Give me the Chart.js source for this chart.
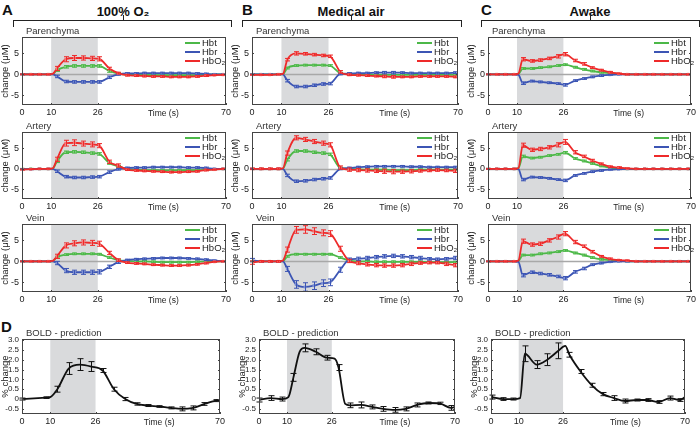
<!DOCTYPE html>
<html>
<head>
<meta charset="utf-8">
<script src="https://cdn.jsdelivr.net/npm/chart.js@4.4.1/dist/chart.umd.min.js"></script>
<style>
  body { margin: 0; background: #fff; font-family: 'Liberation Sans', Arial, sans-serif; }
  #fig { position: relative; width: 700px; height: 428px; overflow: hidden; }
  #fig canvas { position: absolute; }
  .letter { position: absolute; font-weight: bold; font-size: 15px; line-height: 15px; color: #111; }
  .group { position: absolute; width: 140px; text-align: center; font-weight: bold; font-size: 13px; line-height: 13px; color: #111; }
  .bracket { position: absolute; height: 6px; border: 1px solid #222; border-bottom: none; }
  .notch { position: absolute; width: 1px; height: 5px; background: #222; }
</style>
</head>
<body>
<div id="fig">
  <div class="letter" style="left:2px;top:2px">A</div>
  <div class="letter" style="left:242px;top:2px">B</div>
  <div class="letter" style="left:481px;top:2px">C</div>
  <div class="letter" style="left:1px;top:319px">D</div>
  <div class="group" style="left:53px;top:5px">100% O₂</div>
  <div class="group" style="left:281px;top:5px">Medical air</div>
  <div class="group" style="left:520px;top:5px">Awake</div>
  <div class="bracket" style="left:13px;top:20px;width:217px"></div>
  <div class="notch" style="left:123px;top:15px"></div>
  <div class="bracket" style="left:242px;top:20px;width:218px"></div>
  <div class="notch" style="left:351px;top:15px"></div>
  <div class="bracket" style="left:481px;top:20px;width:217px"></div>
  <div class="notch" style="left:590px;top:15px"></div>
</div>
<script>
// stimulus window and axis ticks
const stimWindow = [10, 26];
const timeTicks = [0, 10, 26, 70];
const hbTicks = [-5, 0, 5];
const boldTicks = [-0.5, 0, 0.5, 1, 1.5, 2, 2.5, 3];

// hemodynamic sample times (s)
const hbTime = [0, 3, 6, 9, 10.5, 12, 15, 18, 21, 24, 26.5, 30, 33, 36, 39, 42, 45, 48, 51, 54, 57, 60, 63, 66, 69];

// A - 100% O2
const aParHbt = [0, 0, 0, 0, 0.05, 1.0, 1.8, 2.0, 2.0, 2.0, 2.0, 0.8, 0.2, 0, -0.1, -0.1, -0.2, -0.2, -0.2, -0.2, -0.2, -0.2, -0.1, 0, 0];
const aParHbr = [0, 0, 0, 0, 0, -0.5, -1.7, -1.8, -1.8, -1.8, -1.8, -0.7, 0, 0.2, 0.2, 0.3, 0.3, 0.3, 0.3, 0.3, 0.3, 0.2, 0.1, 0, 0];
const aParHbo = [0, 0, 0, 0, 0.1, 1.4, 3.6, 3.9, 3.9, 3.8, 3.7, 1.4, 0.3, -0.2, -0.3, -0.4, -0.5, -0.5, -0.6, -0.6, -0.6, -0.5, -0.3, -0.2, -0.1];
const aParHbtErr = [0.1, 0.1, 0.1, 0.1, null, 0.3, 0.3, 0.3, 0.3, 0.3, 0.3, 0.3, 0.2, 0.2, 0.2, 0.2, 0.2, 0.2, 0.2, 0.2, 0.2, 0.2, 0.2, 0.1, 0.1];
const aParHbrErr = [0.1, 0.1, 0.1, 0.1, null, 0.3, 0.3, 0.3, 0.3, 0.3, 0.3, 0.3, 0.2, 0.2, 0.2, 0.2, 0.2, 0.2, 0.2, 0.2, 0.2, 0.2, 0.2, 0.1, 0.1];
const aParHboErr = [0.1, 0.1, 0.1, 0.1, null, 0.5, 0.6, 0.6, 0.5, 0.5, 0.5, 0.3, 0.2, 0.2, 0.2, 0.2, 0.2, 0.2, 0.2, 0.2, 0.2, 0.2, 0.2, 0.1, 0.1];

const aArtHbt = [0, 0, 0, 0, 0.05, 1.8, 4.0, 4.1, 4.0, 3.8, 3.6, 1.4, 0.6, 0, -0.2, -0.3, -0.3, -0.4, -0.4, -0.4, -0.3, -0.3, -0.2, -0.1, 0];
const aArtHbr = [-0.1, -0.1, 0, 0, 0, -0.6, -1.9, -2.1, -2.1, -2.0, -1.9, -0.8, -0.1, 0.2, 0.3, 0.3, 0.4, 0.4, 0.4, 0.4, 0.3, 0.3, 0.2, 0, 0];
const aArtHbo = [-0.2, -0.1, 0, 0, 0.1, 2.3, 6.2, 6.3, 6.1, 5.9, 5.6, 1.7, 0.8, -0.2, -0.4, -0.5, -0.6, -0.7, -0.8, -0.8, -0.7, -0.6, -0.3, -0.2, 0];
const aArtHbtErr = [0.1, 0.1, 0.1, 0.1, null, 0.3, 0.3, 0.3, 0.3, 0.3, 0.3, 0.3, 0.2, 0.2, 0.2, 0.2, 0.2, 0.2, 0.2, 0.2, 0.2, 0.2, 0.2, 0.1, 0.1];
const aArtHbrErr = [0.1, 0.1, 0.1, 0.1, null, 0.3, 0.3, 0.3, 0.3, 0.3, 0.3, 0.3, 0.2, 0.2, 0.2, 0.2, 0.2, 0.2, 0.2, 0.2, 0.2, 0.2, 0.2, 0.1, 0.1];
const aArtHboErr = [0.1, 0.1, 0.1, 0.1, null, 0.5, 0.7, 0.7, 0.6, 0.6, 0.5, 0.4, 0.4, 0.2, 0.2, 0.2, 0.2, 0.2, 0.2, 0.2, 0.2, 0.2, 0.2, 0.1, 0.1];

const aVeiHbt = [0, 0, 0, 0, 0.05, 1.0, 1.6, 1.8, 1.8, 1.8, 1.7, 0.9, 0.3, 0.1, 0, 0, -0.1, -0.2, -0.2, -0.2, -0.2, -0.1, 0, 0, 0];
const aVeiHbr = [0, 0, 0, 0, 0, -0.4, -2.2, -2.6, -2.6, -2.6, -2.5, -1.3, -0.2, 0.3, 0.5, 0.6, 0.7, 0.8, 0.8, 0.8, 0.7, 0.6, 0.4, 0.2, 0];
const aVeiHbo = [0, 0, 0, 0, 0.1, 1.2, 3.8, 4.3, 4.5, 4.4, 4.2, 2.0, 0.3, -0.3, -0.5, -0.6, -0.8, -0.9, -1.0, -1.0, -0.9, -0.7, -0.4, -0.1, 0];
const aVeiHbtErr = [0.1, 0.1, 0.1, 0.1, null, 0.2, 0.2, 0.2, 0.2, 0.2, 0.2, 0.2, 0.2, 0.2, 0.2, 0.2, 0.2, 0.2, 0.2, 0.2, 0.2, 0.2, 0.2, 0.1, 0.1];
const aVeiHbrErr = [0.1, 0.1, 0.1, 0.1, null, 0.4, 0.5, 0.5, 0.5, 0.5, 0.5, 0.4, 0.3, 0.2, 0.2, 0.2, 0.2, 0.2, 0.2, 0.2, 0.2, 0.2, 0.2, 0.1, 0.1];
const aVeiHboErr = [0.1, 0.1, 0.1, 0.1, null, 0.5, 0.6, 0.6, 0.6, 0.6, 0.6, 0.4, 0.3, 0.2, 0.2, 0.2, 0.2, 0.2, 0.2, 0.2, 0.2, 0.2, 0.2, 0.1, 0.1];

// B - medical air
const bParHbt = [0, 0, 0, 0, 0.05, 1.5, 2.1, 2.2, 2.2, 2.2, 2.1, 0.3, 0.1, 0, 0, -0.1, -0.1, -0.1, -0.1, -0.1, -0.1, -0.1, -0.1, -0.1, -0.1];
const bParHbr = [0, 0, 0, 0, 0, -1.5, -2.9, -2.9, -2.6, -2.3, -2.2, 0.1, 0.2, 0.3, 0.3, 0.4, 0.4, 0.4, 0.4, 0.3, 0.3, 0.3, 0.3, 0.3, 0.4];
const bParHbo = [-0.1, -0.1, -0.1, 0, 0.1, 3.5, 5.0, 4.9, 4.7, 4.5, 4.3, 0.6, -0.1, -0.2, -0.3, -0.4, -0.5, -0.6, -0.6, -0.6, -0.5, -0.5, -0.5, -0.5, -0.6];
const bParHbtErr = [0.1, 0.1, 0.1, 0.1, null, 0.2, 0.2, 0.2, 0.2, 0.2, 0.2, 0.2, 0.2, 0.2, 0.2, 0.2, 0.2, 0.2, 0.2, 0.2, 0.2, 0.2, 0.2, 0.2, 0.2];
const bParHbrErr = [0.1, 0.1, 0.1, 0.1, null, 0.3, 0.3, 0.3, 0.3, 0.3, 0.3, 0.2, 0.2, 0.2, 0.2, 0.2, 0.3, 0.3, 0.2, 0.2, 0.2, 0.2, 0.2, 0.2, 0.2];
const bParHboErr = [0.1, 0.1, 0.1, 0.1, null, 0.3, 0.4, 0.3, 0.3, 0.3, 0.3, 0.3, 0.2, 0.2, 0.2, 0.2, 0.3, 0.3, 0.2, 0.2, 0.2, 0.2, 0.2, 0.2, 0.2];

const bArtHbt = [0, 0, 0, 0, 0.05, 2.2, 4.3, 4.3, 4.0, 3.8, 3.5, 0.2, 0, -0.1, -0.2, -0.2, -0.2, -0.3, -0.3, -0.3, -0.2, -0.2, -0.2, -0.2, -0.2];
const bArtHbr = [0, 0, 0, 0, 0, -1.6, -3.0, -2.9, -2.6, -2.4, -2.2, 0, 0.2, 0.4, 0.5, 0.6, 0.6, 0.6, 0.6, 0.5, 0.5, 0.4, 0.4, 0.4, 0.4];
const bArtHbo = [0, 0, 0, 0, 0.1, 3.8, 7.5, 7.1, 6.6, 6.2, 5.8, 0.3, -0.2, -0.3, -0.4, -0.5, -0.6, -0.7, -0.7, -0.6, -0.5, -0.4, -0.3, -0.4, -0.5];
const bArtHbtErr = [0.1, 0.1, 0.1, 0.1, null, 0.3, 0.3, 0.3, 0.3, 0.3, 0.3, 0.2, 0.2, 0.2, 0.2, 0.2, 0.2, 0.2, 0.2, 0.2, 0.2, 0.2, 0.2, 0.2, 0.2];
const bArtHbrErr = [0.1, 0.1, 0.1, 0.1, null, 0.3, 0.3, 0.3, 0.3, 0.3, 0.3, 0.2, 0.2, 0.2, 0.2, 0.2, 0.2, 0.2, 0.2, 0.2, 0.2, 0.2, 0.2, 0.2, 0.2];
const bArtHboErr = [0.2, 0.2, 0.2, 0.2, null, 0.5, 0.5, 0.5, 0.5, 0.5, 0.5, 0.4, 0.4, 0.4, 0.4, 0.4, 0.5, 0.5, 0.4, 0.4, 0.3, 0.3, 0.3, 0.3, 0.4];

const bVeiHbt = [0, 0, 0, 0, 0.05, 1.2, 1.7, 1.7, 1.7, 1.7, 1.7, 0.9, 0.2, 0, 0, -0.1, -0.1, -0.1, -0.1, -0.1, -0.1, -0.2, -0.2, -0.2, -0.2];
const bVeiHbr = [0.3, 0, 0, 0, 0, -1.8, -5.5, -6.1, -5.8, -5.2, -5.0, -2.0, 0.4, 0.6, 0.8, 1.0, 1.2, 1.3, 1.2, 1.0, 0.8, 0.6, 0.5, 0.6, 0.8];
const bVeiHbo = [-0.3, 0, 0, 0, 0.2, 2.8, 7.5, 7.6, 7.2, 6.8, 6.6, 3.0, 0.1, -0.4, -0.7, -0.9, -1.0, -1.0, -0.9, -0.6, -0.4, -0.3, -0.3, -0.6, -0.9];
const bVeiHbtErr = [0.1, 0.1, 0.1, 0.1, null, 0.2, 0.2, 0.2, 0.2, 0.2, 0.2, 0.2, 0.2, 0.2, 0.2, 0.2, 0.2, 0.2, 0.2, 0.2, 0.2, 0.2, 0.2, 0.2, 0.2];
const bVeiHbrErr = [0.4, 0.2, 0.2, 0.2, null, 0.6, 0.9, 1.0, 0.9, 0.8, 0.8, 0.6, 0.4, 0.4, 0.4, 0.4, 0.4, 0.4, 0.4, 0.4, 0.4, 0.3, 0.3, 0.3, 0.4];
const bVeiHboErr = [0.4, 0.2, 0.2, 0.2, null, 0.6, 0.8, 0.9, 0.8, 0.7, 0.7, 0.6, 0.4, 0.4, 0.4, 0.4, 0.4, 0.4, 0.4, 0.4, 0.3, 0.3, 0.3, 0.4, 0.4];

// C - awake
const cParHbt = [0, 0, 0, 0, 0.1, 1.4, 1.4, 1.6, 1.8, 2.1, 2.3, 1.7, 1.2, 0.8, 0.5, 0.3, 0.1, 0, 0, 0, 0, 0, 0, 0, 0];
const cParHbr = [0, 0, 0, 0, -0.1, -2.1, -1.6, -1.8, -2.0, -2.2, -2.5, -1.5, -1.0, -0.6, -0.3, -0.1, 0, 0, 0, 0, 0, 0, 0, 0, 0];
const cParHbo = [0, 0, 0, 0, 0.2, 3.6, 3.2, 3.4, 3.8, 4.3, 4.8, 3.3, 2.5, 1.6, 1.0, 0.5, 0.2, 0, 0, 0, 0, 0, 0, 0, 0];
const cParHbtErr = [0.1, 0.1, 0.1, 0.1, null, 0.2, 0.2, 0.2, 0.2, 0.2, 0.2, 0.2, 0.2, 0.2, 0.2, 0.1, 0.1, 0.1, 0.1, 0.1, 0.1, 0.1, 0.1, 0.1, 0.1];
const cParHbrErr = [0.1, 0.1, 0.1, 0.1, null, 0.3, 0.2, 0.2, 0.2, 0.2, 0.3, 0.2, 0.2, 0.2, 0.2, 0.1, 0.1, 0.1, 0.1, 0.1, 0.1, 0.1, 0.1, 0.1, 0.1];
const cParHboErr = [0.1, 0.1, 0.1, 0.1, null, 0.4, 0.3, 0.3, 0.3, 0.4, 0.4, 0.3, 0.3, 0.2, 0.2, 0.2, 0.1, 0.1, 0.1, 0.1, 0.1, 0.1, 0.1, 0.1, 0.1];

const cArtHbt = [0, 0, 0, 0, 0.1, 3.0, 2.6, 2.8, 3.2, 3.5, 3.9, 2.5, 1.9, 1.3, 0.7, 0.3, 0.1, 0, 0, 0, 0, 0, 0, 0, 0];
const cArtHbr = [0, 0, 0, 0, -0.1, -2.6, -2.0, -2.1, -2.3, -2.6, -2.8, -1.6, -1.1, -0.7, -0.4, -0.2, -0.1, 0, 0, 0, 0, 0, 0, 0, 0];
const cArtHbo = [0, 0, 0, 0, 0.2, 5.7, 4.6, 4.8, 5.2, 5.8, 6.5, 4.0, 3.0, 2.0, 1.2, 0.5, 0.3, 0.1, 0, 0, 0, 0, 0, 0, 0];
const cArtHbtErr = [0.1, 0.1, 0.1, 0.1, null, 0.3, 0.2, 0.2, 0.2, 0.2, 0.3, 0.2, 0.2, 0.2, 0.2, 0.1, 0.1, 0.1, 0.1, 0.1, 0.1, 0.1, 0.1, 0.1, 0.1];
const cArtHbrErr = [0.1, 0.1, 0.1, 0.1, null, 0.3, 0.2, 0.2, 0.2, 0.2, 0.3, 0.2, 0.2, 0.2, 0.2, 0.1, 0.1, 0.1, 0.1, 0.1, 0.1, 0.1, 0.1, 0.1, 0.1];
const cArtHboErr = [0.1, 0.1, 0.1, 0.1, null, 0.5, 0.4, 0.4, 0.4, 0.5, 0.6, 0.4, 0.3, 0.3, 0.2, 0.2, 0.2, 0.1, 0.1, 0.1, 0.1, 0.1, 0.1, 0.1, 0.1];

const cVeiHbt = [0, 0, 0, 0, 0.1, 1.5, 1.5, 1.8, 2.0, 2.3, 2.6, 2.0, 1.5, 0.9, 0.5, 0.3, 0.1, 0, 0, 0, 0, 0, 0, 0, 0];
const cVeiHbr = [0, 0, 0, 0, -0.1, -3.3, -2.6, -2.9, -3.2, -3.6, -4.0, -2.5, -1.7, -0.8, -0.4, -0.1, 0, 0, 0, 0, 0, 0, 0, 0, 0];
const cVeiHbo = [0, 0, 0, 0, 0.2, 4.8, 4.0, 4.2, 5.0, 5.8, 6.6, 4.6, 3.6, 2.3, 1.2, 0.6, 0.3, 0.2, 0, 0, 0, 0, 0, 0, 0];
const cVeiHbtErr = [0.1, 0.1, 0.1, 0.1, null, 0.2, 0.2, 0.2, 0.2, 0.2, 0.2, 0.2, 0.2, 0.2, 0.2, 0.1, 0.1, 0.1, 0.1, 0.1, 0.1, 0.1, 0.1, 0.1, 0.1];
const cVeiHbrErr = [0.1, 0.1, 0.1, 0.1, null, 0.4, 0.3, 0.3, 0.3, 0.3, 0.4, 0.3, 0.3, 0.2, 0.2, 0.1, 0.1, 0.1, 0.1, 0.1, 0.1, 0.1, 0.1, 0.1, 0.1];
const cVeiHboErr = [0.1, 0.1, 0.1, 0.1, null, 0.5, 0.4, 0.4, 0.4, 0.5, 0.5, 0.4, 0.3, 0.3, 0.2, 0.2, 0.1, 0.1, 0.1, 0.1, 0.1, 0.1, 0.1, 0.1, 0.1];

// D - BOLD prediction (% change)
const boldTimeA = [0, 8.5, 10, 12.5, 16.5, 20.5, 24.5, 28.5, 32.5, 36.5, 40.5, 44.5, 48.5, 52.5, 56.5, 60.5, 64.5, 68.5, 70];
const boldA = [0, 0.07, 0.1, 0.5, 1.55, 1.75, 1.65, 1.45, 0.5, 0.0, -0.25, -0.33, -0.38, -0.45, -0.5, -0.45, -0.25, -0.08, -0.05];
const boldAErr = [0.05, 0.04, null, 0.15, 0.3, 0.3, 0.25, 0.1, 0.1, 0.08, 0.06, 0.05, 0.04, 0.05, 0.1, 0.1, 0.07, 0.05, null];

const boldTimeB = [0, 4.2, 8.3, 10.5, 12.3, 14.5, 16.3, 20.3, 24.3, 27, 28.4, 30.8, 32.4, 36.4, 40.4, 44.4, 48.4, 52.4, 56.4, 60.5, 64.5, 68.5, 70];
const boldB = [-0.05, 0.05, 0.0, 0.1, 1.1, 2.4, 2.6, 2.4, 2.1, 2.05, 1.6, -0.25, -0.32, -0.3, -0.4, -0.5, -0.55, -0.5, -0.3, -0.2, -0.22, -0.45, -0.4];
const boldBErr = [0.1, 0.12, 0.1, null, 0.2, null, 0.2, 0.15, 0.12, null, 0.15, null, 0.12, 0.15, 0.1, 0.12, 0.12, 0.1, 0.1, 0.05, 0.06, 0.12, null];

const boldTimeC = [0.3, 4.4, 8.1, 10.5, 12.2, 16.5, 20.3, 24.3, 26.8, 28.3, 32.3, 36.4, 40.4, 44.4, 48.4, 52.5, 56.5, 60.5, 64.6, 68.2, 70];
const boldC = [0.1, 0.0, 0.0, 0.05, 2.3, 1.75, 2.0, 2.45, 2.7, 2.25, 1.4, 0.7, 0.25, 0.05, -0.1, -0.05, -0.05, -0.15, 0.05, -0.05, 0.1];
const boldCErr = [0.1, 0.07, 0.05, null, 0.4, 0.2, 0.3, 0.4, null, 0.12, 0.1, 0.1, 0.08, 0.12, 0.1, 0.05, 0.07, 0.07, 0.1, 0.07, null];

// ---- styling / layout ----
const FONT = "'Liberation Sans', Arial, sans-serif";
Chart.defaults.font.family = FONT;
Chart.defaults.color = '#222';

const colors = {
  hbt: { line: '#4cb848', mark: '#8fd489' },
  hbr: { line: '#3c55b4', mark: '#7f92d6' },
  hbo: { line: '#ee2a2a', mark: '#f57777' },
};

const hbCols = [{ left: 22, right: 226 }, { left: 252, right: 458 }, { left: 488, right: 691 }];
const hbRows = [{ top: 37, bottom: 105 }, { top: 132, bottom: 199 }, { top: 224, bottom: 292 }];
const boldCols = [{ left: 22, right: 228 }, { left: 259, right: 463 }, { left: 491, right: 693 }];
const boldRow = { top: 339, bottom: 414 };
const legendOffset = [41, 41, 37];

const fig = document.getElementById('fig');

function addCanvas(left, top, width, height) {
  const c = document.createElement('canvas');
  c.width = width;
  c.height = height;
  c.style.left = left + 'px';
  c.style.top = top + 'px';
  c.style.width = width + 'px';
  c.style.height = height + 'px';
  fig.appendChild(c);
  return c;
}

// shading, zero line, error bars, frame, titles, legend
const panelDecor = {
  id: 'panelDecor',
  beforeDatasetsDraw(chart, args, opts) {
    const { ctx, chartArea: a, scales: { x, y } } = chart;
    ctx.save();
    const x0 = x.getPixelForValue(stimWindow[0]);
    const x1 = x.getPixelForValue(stimWindow[1]);
    ctx.fillStyle = '#d9dadc';
    ctx.fillRect(x0, a.top, x1 - x0, a.bottom - a.top);
    if (opts.zeroLine) {
      const y0 = Math.round(y.getPixelForValue(0)) + 0.5;
      ctx.strokeStyle = '#a8a8a8';
      ctx.lineWidth = 1.3;
      ctx.beginPath();
      ctx.moveTo(a.left, y0);
      ctx.lineTo(a.right, y0);
      ctx.stroke();
    }
    ctx.restore();
  },
  afterDatasetDraw(chart, args, opts) {
    const ds = chart.data.datasets[args.index];
    if (!ds.err) return;
    const { ctx, scales: { x, y } } = chart;
    ctx.save();
    ctx.strokeStyle = ds.borderColor;
    ctx.lineWidth = 1;
    const cap = opts.cap || 2.5;
    ds.data.forEach((p, i) => {
      const e = ds.err[i];
      if (e == null) return;
      const px = Math.round(x.getPixelForValue(p.x)) + 0.5;
      const yt = y.getPixelForValue(p.y + e);
      const yb = y.getPixelForValue(p.y - e);
      ctx.beginPath();
      ctx.moveTo(px, yt); ctx.lineTo(px, yb);
      ctx.moveTo(px - cap, yt); ctx.lineTo(px + cap, yt);
      ctx.moveTo(px - cap, yb); ctx.lineTo(px + cap, yb);
      ctx.stroke();
    });
    ctx.restore();
  },
  afterDraw(chart, args, opts) {
    const { ctx, chartArea: a, scales: { x, y } } = chart;
    ctx.save();
    // frame
    ctx.strokeStyle = '#444';
    ctx.lineWidth = 1;
    ctx.strokeRect(a.left + 0.5, a.top + 0.5, a.right - a.left - 1, a.bottom - a.top - 1);
    // small inward ticks
    ctx.beginPath();
    y.ticks.forEach(t => {
      const py = Math.round(y.getPixelForValue(t.value)) + 0.5;
      ctx.moveTo(a.left, py); ctx.lineTo(a.left + 2, py);
      ctx.moveTo(a.right, py); ctx.lineTo(a.right - 2, py);
    });
    x.ticks.forEach(t => {
      const px = Math.round(x.getPixelForValue(t.value)) + 0.5;
      ctx.moveTo(px, a.bottom); ctx.lineTo(px, a.bottom - 2);
    });
    ctx.stroke();
    // panel title
    ctx.fillStyle = '#333';
    ctx.font = '9.5px ' + FONT;
    ctx.textAlign = 'left';
    ctx.textBaseline = 'alphabetic';
    ctx.fillText(opts.title, a.left + 4, a.top - 3);
    // time axis label
    ctx.fillStyle = '#222';
    ctx.font = '8.5px ' + FONT;
    ctx.textAlign = 'center';
    ctx.textBaseline = 'middle';
    ctx.fillText('Time (s)', x.getPixelForValue(48.5), a.bottom + 9);
    // legend
    if (opts.legend) {
      const lx = a.right - opts.legendOffset;
      ctx.font = '9.5px ' + FONT;
      ctx.textAlign = 'left';
      ctx.textBaseline = 'middle';
      opts.legend.forEach((item, i) => {
        const ly = a.top + 6 + i * 9;
        ctx.strokeStyle = item.color;
        ctx.lineWidth = 2;
        ctx.beginPath();
        ctx.moveTo(lx, ly); ctx.lineTo(lx + 15, ly);
        ctx.stroke();
        ctx.fillStyle = '#222';
        ctx.fillText(item.text, lx + 17, ly + 0.5);
      });
    }
    ctx.restore();
  }
};

function fixedTicks(values) {
  return axis => { axis.ticks = values.map(v => ({ value: v })); };
}

function series(times, vals, errs, color, markColor, order) {
  return {
    data: times.map((t, i) => ({ x: t, y: vals[i] })),
    err: errs,
    borderColor: color,
    borderWidth: 1.8,
    cubicInterpolationMode: 'monotone',
    pointStyle: 'rect',
    pointRadius: ctx => (errs[ctx.dataIndex] == null ? 0 : 2),
    pointBackgroundColor: markColor,
    pointBorderWidth: 0,
    order,
  };
}

function baseOptions(yMin, yMax, yTicks, yTitle, yWidth, yTickSize, tickFmt, decor) {
  return {
    responsive: false,
    animation: false,
    events: [],
    layout: { padding: { top: 14, right: 14, left: 0, bottom: 0 } },
    scales: {
      x: {
        type: 'linear', min: 0, max: 70,
        afterBuildTicks: fixedTicks(timeTicks),
        afterFit: s => { s.height = 16; },
        grid: { display: false, drawTicks: false },
        border: { display: false },
        ticks: { font: { size: 9 }, padding: 2, color: '#222', maxRotation: 0, autoSkip: false },
      },
      y: {
        min: yMin, max: yMax,
        afterBuildTicks: fixedTicks(yTicks),
        afterFit: s => { s.width = yWidth; },
        grid: { display: false, drawTicks: false },
        border: { display: false },
        ticks: { font: { size: yTickSize }, padding: 3, color: '#222', autoSkip: false, callback: tickFmt },
        title: { display: true, text: yTitle, font: { size: 9.5 }, color: '#222', padding: { top: 0, bottom: 0 } },
      },
    },
    plugins: {
      legend: { display: false },
      tooltip: { enabled: false },
      panelDecor: decor,
    },
  };
}

const hbPanels = [
  ['Parenchyma', [[aParHbt, aParHbtErr, aParHbr, aParHbrErr, aParHbo, aParHboErr],
                  [bParHbt, bParHbtErr, bParHbr, bParHbrErr, bParHbo, bParHboErr],
                  [cParHbt, cParHbtErr, cParHbr, cParHbrErr, cParHbo, cParHboErr]]],
  ['Artery', [[aArtHbt, aArtHbtErr, aArtHbr, aArtHbrErr, aArtHbo, aArtHboErr],
              [bArtHbt, bArtHbtErr, bArtHbr, bArtHbrErr, bArtHbo, bArtHboErr],
              [cArtHbt, cArtHbtErr, cArtHbr, cArtHbrErr, cArtHbo, cArtHboErr]]],
  ['Vein', [[aVeiHbt, aVeiHbtErr, aVeiHbr, aVeiHbrErr, aVeiHbo, aVeiHboErr],
            [bVeiHbt, bVeiHbtErr, bVeiHbr, bVeiHbrErr, bVeiHbo, bVeiHboErr],
            [cVeiHbt, cVeiHbtErr, cVeiHbr, cVeiHbrErr, cVeiHbo, cVeiHboErr]]],
];

const legendItems = [
  { text: 'Hbt', color: colors.hbt.line },
  { text: 'Hbr', color: colors.hbr.line },
  { text: 'HbO₂', color: colors.hbo.line },
];

const Y_AXIS_W = 22;

hbPanels.forEach(([title, cols], r) => {
  const row = hbRows[r];
  cols.forEach((d, c) => {
    const col = hbCols[c];
    const plotW = col.right - col.left;
    const plotH = row.bottom - row.top;
    const canvas = addCanvas(col.left - Y_AXIS_W, row.top - 14, plotW + Y_AXIS_W + 14, plotH + 14 + 16);
    new Chart(canvas, {
      type: 'line',
      data: {
        datasets: [
          series(hbTime, d[0], d[1], colors.hbt.line, colors.hbt.mark, 2),
          series(hbTime, d[2], d[3], colors.hbr.line, colors.hbr.mark, 1),
          series(hbTime, d[4], d[5], colors.hbo.line, colors.hbo.mark, 0),
        ],
      },
      options: baseOptions(-7.3, 8.9, hbTicks, 'change (μM)', Y_AXIS_W, 9, v => String(v),
        { title, zeroLine: true, legend: legendItems, legendOffset: legendOffset[c], cap: 2.5 }),
      plugins: [panelDecor],
    });
  });
});

const boldSets = [
  [boldTimeA, boldA, boldAErr],
  [boldTimeB, boldB, boldBErr],
  [boldTimeC, boldC, boldCErr],
];

boldSets.forEach(([t, v, e], c) => {
  const col = boldCols[c];
  const plotW = col.right - col.left;
  const plotH = boldRow.bottom - boldRow.top;
  const canvas = addCanvas(col.left - Y_AXIS_W, boldRow.top - 14, plotW + Y_AXIS_W + 6, plotH + 14 + 16);
  const ds = series(t, v, e, '#111', '#111', 0);
  ds.pointRadius = 0;
  new Chart(canvas, {
    type: 'line',
    data: { datasets: [ds] },
    options: baseOptions(-0.76, 3.05, boldTicks, '% change', Y_AXIS_W, 8,
      val => (val === 0 ? '0' : val.toFixed(1)),
      { title: 'BOLD - prediction', zeroLine: false, cap: 3 }),
    plugins: [panelDecor],
  });
});
</script>
</body>
</html>
